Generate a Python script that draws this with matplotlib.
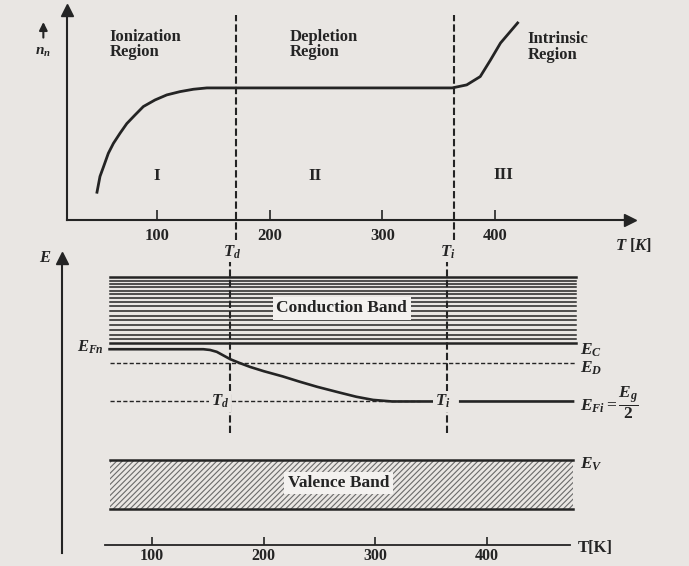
import matplotlib
matplotlib.use("Agg")
import matplotlib.pyplot as plt
import numpy as np

plt.rcParams['font.family'] = ['Liberation Serif', 'DejaVu Serif']
plt.rcParams['font.weight'] = 'bold'
plt.rcParams['mathtext.fontset'] = 'custom'
plt.rcParams['mathtext.rm'] = 'Liberation Serif:bold'
plt.rcParams['mathtext.it'] = 'Liberation Serif:bold:italic'
plt.rcParams['mathtext.bf'] = 'Liberation Serif:bold'
plt.rcParams['hatch.linewidth'] = 0.8

# ---------------- data ----------------
ticks_T = [100, 200, 300, 400]
T_d = 170
T_i = 364

# carrier concentration n_n (normalised to plateau) vs temperature
nn_T = [46.4, 49.3, 52.3, 56.7, 61.2, 67.1, 73.1, 80.4, 87.8, 98.2, 108.6, 120.4,
        132.3, 144.2, 362, 375, 387, 396, 405, 421]
nn_val = [0.20, 0.33, 0.40, 0.505, 0.58, 0.657, 0.73, 0.795, 0.859, 0.909, 0.947, 0.972,
          0.99, 1.00, 1.00, 1.023, 1.086, 1.21, 1.34, 1.50]

# energy levels (eV)
E_V = 0.0
E_C = 1.12
E_D = 0.93
E_Fi = 0.56
E_Fn = 1.06
valence_bottom = -0.47
conduction_levels = [1.75, 1.715, 1.685, 1.655, 1.62, 1.585, 1.55, 1.51,
                     1.47, 1.425, 1.38, 1.335, 1.29, 1.245, 1.20, 1.155, 1.12]
band_T = [62, 480]

# Fermi level vs temperature (NaN = gap for label)
fermi_T = [62, 146, 152, 158, 164, 170, 178, 188, 200, 217, 232, 248, 268, 283, 298, 315, 351,
           np.nan, 376, 477]
fermi_E = [1.06, 1.06, 1.053, 1.035, 1.0, 0.965, 0.93, 0.89, 0.85, 0.80, 0.75, 0.70, 0.645,
           0.605, 0.575, 0.56, 0.56, np.nan, 0.56, 0.56]

# ---------------- figure ----------------
BG = '#e9e6e3'
INK = '#242424'
fig = plt.figure(figsize=(6.89, 5.66), dpi=100, facecolor=BG)

# ---- top panel ----
ax1 = fig.add_axes([67/689, (566-220)/566, 563/689, 210/566])
ax1.set_facecolor(BG)
ax1.set_xlim(20, 520)
ax1.set_ylim(0, 1.59)
for s in ['top', 'right']:
    ax1.spines[s].set_visible(False)
for s in ['left', 'bottom']:
    ax1.spines[s].set_linewidth(1.5)
    ax1.spines[s].set_color(INK)
ax1.plot(1, 0, '>', color=INK, ms=8, transform=ax1.transAxes, clip_on=False)
ax1.plot(0, 1, '^', color=INK, ms=8, transform=ax1.transAxes, clip_on=False)
ax1.set_xticks(ticks_T)
ax1.set_xticklabels([str(t) for t in ticks_T])
ax1.set_yticks([])
ax1.tick_params(axis='x', direction='in', length=7, width=1.2, pad=6,
                labelsize=12, colors=INK)

ax1.plot(nn_T, nn_val, color=INK, lw=2.0, solid_capstyle='butt')
for T in (T_d, T_i):
    ax1.plot([T, T], [-0.15, 1.553], color=INK, lw=1.5, ls=(0, (3.5, 1.5)), clip_on=False)

ax1.text(58, 1.33, 'Ionization\nRegion', fontsize=12, ha='left', va='center',
         linespacing=0.95, color=INK)
ax1.text(218, 1.33, 'Depletion\nRegion', fontsize=12, ha='left', va='center',
         linespacing=0.95, color=INK)
ax1.text(429, 1.31, 'Intrinsic\nRegion', fontsize=12, ha='left', va='center',
         linespacing=0.95, color=INK)
ax1.text(100, 0.33, 'I', fontsize=12.5, ha='center', va='center', color=INK)
ax1.text(240, 0.33, 'II', fontsize=12.5, ha='center', va='center', color=INK)
ax1.text(408, 0.34, 'III', fontsize=12.5, ha='center', va='center', color=INK)
ax1.text(523, -0.19, r'$T$ [$K$]', fontsize=12, ha='center', va='center', color=INK)
ax1.text(-1, 1.27, r'$n_n$', fontsize=11, ha='center', va='center', color=INK)
ax1.annotate('', xy=(-1, 1.52), xytext=(-1, 1.36), annotation_clip=False,
             arrowprops=dict(arrowstyle='-|>', color=INK, lw=1.5, mutation_scale=12))

# ---- bottom panel ----
ax2 = fig.add_axes([62/689, 13/566, 568/689, 295/566])
ax2.set_facecolor('none')
ax2.set_xlim(19.4, 528)
ax2.set_ylim(-0.89, 1.933)
for s in ['top', 'right']:
    ax2.spines[s].set_visible(False)
ax2.spines['left'].set_linewidth(1.5)
ax2.spines['left'].set_color(INK)
ax2.spines['bottom'].set_position(('data', -0.813))
ax2.spines['bottom'].set_bounds(58, 474)
ax2.spines['bottom'].set_linewidth(1.3)
ax2.spines['bottom'].set_color(INK)
ax2.plot(0, 1, '^', color=INK, ms=8, transform=ax2.transAxes, clip_on=False)
ax2.set_xticks(ticks_T)
ax2.set_xticklabels([str(t) for t in ticks_T])
ax2.set_yticks([])
ax2.tick_params(axis='x', direction='in', length=6, width=1.2, pad=2.5,
                labelsize=11.5, colors=INK)

# conduction band
for i, e in enumerate(conduction_levels):
    lw = 1.8 if i in (0, len(conduction_levels) - 1) else 1.1
    ax2.plot(band_T, [e, e], color=INK, lw=lw)
ax2.text(270, 1.45, 'Conduction Band', fontsize=12.5, ha='center', va='center', color=INK,
         bbox=dict(facecolor='#f3f1ef', edgecolor='none', pad=2.5))

# valence band
ax2.fill_between([62, 477], valence_bottom, E_V, facecolor='none', edgecolor='#6a6a6a',
                 hatch='//////', linewidth=0)
ax2.plot([62, 477], [E_V, E_V], color=INK, lw=1.8)
ax2.plot([62, 477], [valence_bottom, valence_bottom], color=INK, lw=1.8)
ax2.text(267, -0.22, 'Valence Band', fontsize=12.5, ha='center', va='center', color=INK,
         bbox=dict(facecolor='#f3f1ef', edgecolor='none', pad=2.5))

# donor level and intrinsic level
ax2.plot(band_T, [E_D, E_D], color=INK, lw=1.0, ls=(0, (3, 1.6)))
ax2.plot([62, 340], [E_Fi, E_Fi], color=INK, lw=1.0, ls=(0, (3, 1.6)))

# Fermi level
ax2.plot(fermi_T, fermi_E, color=INK, lw=1.9)

# vertical dashed lines
for T in (T_d, T_i):
    ax2.plot([T, T], [0.258, 1.895], color=INK, lw=1.5, ls=(0, (3.5, 1.5)))

# labels
ax2.text(171.6, 1.985, r'$T_d$', fontsize=12, ha='center', va='center', color=INK)
ax2.text(365, 1.985, r'$T_i$', fontsize=12, ha='center', va='center', color=INK)
ax2.text(161, E_Fi, r'$T_d$', fontsize=12, ha='center', va='center', color=INK,
         bbox=dict(facecolor=BG, edgecolor='none', pad=1.5))
ax2.text(360, E_Fi, r'$T_i$', fontsize=12, ha='center', va='center', color=INK,
         bbox=dict(facecolor=BG, edgecolor='none', pad=1.5))
ax2.text(4.2, 1.93, r'$E$', fontsize=12, ha='center', va='center', color=INK)
ax2.text(57, 1.075, r'$E_{Fn}$', fontsize=12, ha='right', va='center', color=INK)
ax2.text(483, 1.05, r'$E_C$', fontsize=12.5, ha='left', va='center', color=INK)
ax2.text(483, 0.88, r'$E_D$', fontsize=12.5, ha='left', va='center', color=INK)
ax2.text(483, 0.55, r'$E_{Fi} = \dfrac{E_g}{2}$', fontsize=12.5, ha='left', va='center',
         color=INK)
ax2.text(483, -0.04, r'$E_V$', fontsize=12.5, ha='left', va='center', color=INK)
ax2.text(481, -0.84, 'T[K]', fontsize=12, ha='left', va='center', color=INK)

fig.savefig('out.png', dpi=100, facecolor=BG)
